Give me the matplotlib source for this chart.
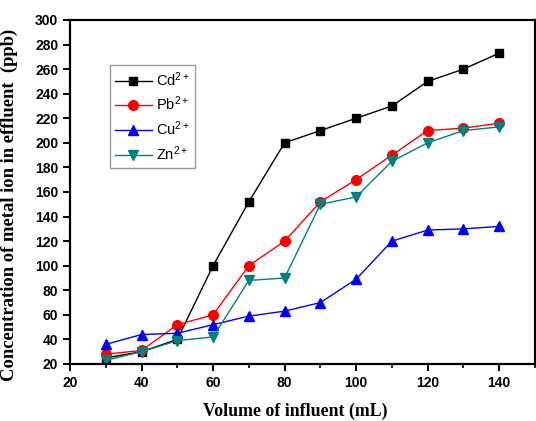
import matplotlib
matplotlib.use("Agg")
import matplotlib.pyplot as plt
from matplotlib.ticker import MultipleLocator

# data
volume = [30, 40, 50, 60, 70, 80, 90, 100, 110, 120, 130, 140]
cd = [25, 30, 40, 100, 152, 200, 210, 220, 230, 250, 260, 273]
pb = [28, 31, 52, 60, 100, 120, 152, 170, 190, 210, 212, 216]
cu = [36, 44, 45, 52, 59, 63, 70, 89, 120, 129, 130, 132]
zn = [23, 30, 39, 42, 88, 90, 150, 156, 185, 200, 210, 213]

plt.rcParams["mathtext.fontset"] = "custom"
plt.rcParams["mathtext.rm"] = "Liberation Sans"
plt.rcParams["mathtext.it"] = "Liberation Sans:italic"
plt.rcParams["mathtext.bf"] = "Liberation Sans:bold"

fig = plt.figure(figsize=(5.36, 4.21), dpi=100)
ax = fig.add_axes([0.1306, 0.1354, 0.8674, 0.8171])

ax.plot(volume, cd, color="black", marker="s", ms=6, lw=1, label=r"Cd$^{\mathrm{2+}}$")
ax.plot(volume, pb, color="red", marker="o", ms=7, lw=1, label=r"Pb$^{\mathrm{2+}}$")
ax.plot(volume, cu, color="blue", marker="^", ms=7, lw=1, label=r"Cu$^{\mathrm{2+}}$")
ax.plot(volume, zn, color="#008080", marker="v", ms=7, lw=1, label=r"Zn$^{\mathrm{2+}}$")

ax.set_xlim(20, 150)
ax.set_ylim(20, 300)
ax.xaxis.set_major_locator(MultipleLocator(20))
ax.xaxis.set_minor_locator(MultipleLocator(10))
ax.yaxis.set_major_locator(MultipleLocator(20))

for s in ax.spines.values():
    s.set_linewidth(1.6)
ax.tick_params(which="major", direction="out", length=5, width=1.4)
ax.tick_params(which="minor", direction="out", length=3, width=1.2)
ax.tick_params(axis="y", which="minor", left=False)
for lab in ax.get_xticklabels() + ax.get_yticklabels():
    lab.set_fontfamily("Liberation Sans")
    lab.set_fontweight("bold")
    lab.set_fontsize(10)

ax.set_xlabel("Volume of influent (mL)", family="Liberation Serif",
              fontweight="bold", fontsize=12.8)
ax.xaxis.set_label_coords(0.485, -0.112)
ax.set_ylabel("Concentration of metal ion in effluent  (ppb)", family="Liberation Serif",
              fontweight="bold", fontsize=13.4)
ax.yaxis.set_label_coords(-0.112, 0.462)

leg = ax.legend(loc="upper left", bbox_to_anchor=(0.086, 0.869),
                prop={"family": "Liberation Sans", "size": 10.5},
                handlelength=2.5, fancybox=False, framealpha=1,
                edgecolor="#999999", borderpad=0.35, labelspacing=0.42,
                handletextpad=0.3, borderaxespad=0)
leg.get_frame().set_linewidth(1.0)

fig.savefig("out.png", dpi=100)
